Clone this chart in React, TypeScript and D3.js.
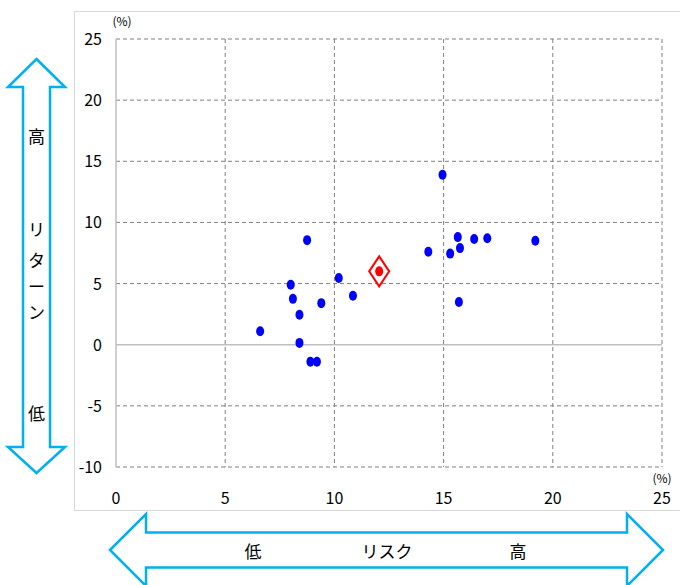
import React from "react";
import * as d3 from "d3";

// Risk (annualised volatility, %) and return (%) for each fund
const risk = [6.6, 8.0, 8.1, 8.4, 8.4, 8.75, 8.9, 9.2, 9.4, 10.2, 10.85, 14.95, 14.3, 15.3, 15.65, 15.75, 15.7, 16.4, 17.0, 19.2];
const ret = [1.1, 4.9, 3.75, 2.45, 0.15, 8.55, -1.4, -1.4, 3.4, 5.45, 4.0, 13.9, 7.6, 7.45, 8.8, 7.9, 3.5, 8.65, 8.7, 8.5];

// Highlighted fund
const highlightRisk = [12.05];
const highlightRet = [6.0];

const xTicks = [0, 5, 10, 15, 20, 25];
const yTicks = [25, 20, 15, 10, 5, 0, -5, -10];

const W = 680;
const H = 585;
const plot = { left: 116, right: 662, top: 39, bottom: 467 };

const FONT = "'Noto Sans CJK JP', 'Noto Sans', sans-serif";
const ARROW = "#00b0f0";

export default function App() {
  const x = d3.scaleLinear().domain([0, 25]).range([plot.left, plot.right]);
  const y = d3.scaleLinear().domain([-10, 25]).range([plot.bottom, plot.top]);

  // vertical double arrow (return)
  const vTop = 59, vHeadTop = 87, vHeadBot = 447, vBot = 473;
  const vCx = 36.5, vHeadHalf = 28.5, vShaftHalf = 13.5;
  const vArrow = [
    [vCx, vTop], [vCx + vHeadHalf, vHeadTop], [vCx + vShaftHalf, vHeadTop],
    [vCx + vShaftHalf, vHeadBot], [vCx + vHeadHalf, vHeadBot], [vCx, vBot],
    [vCx - vHeadHalf, vHeadBot], [vCx - vShaftHalf, vHeadBot],
    [vCx - vShaftHalf, vHeadTop], [vCx - vHeadHalf, vHeadTop],
  ];

  // horizontal double arrow (risk)
  const hLeft = 110, hHeadL = 146, hHeadR = 627, hRight = 663;
  const hCy = 550, hHeadHalf = 36, hShaftHalf = 17.5;
  const hArrow = [
    [hLeft, hCy], [hHeadL, hCy - hHeadHalf], [hHeadL, hCy - hShaftHalf],
    [hHeadR, hCy - hShaftHalf], [hHeadR, hCy - hHeadHalf], [hRight, hCy],
    [hHeadR, hCy + hHeadHalf], [hHeadR, hCy + hShaftHalf],
    [hHeadL, hCy + hShaftHalf], [hHeadL, hCy + hHeadHalf],
  ];
  const poly = (pts: number[][]) => "M" + pts.map((p) => p.join(",")).join("L") + "Z";

  const vChars = [
    { t: "高", y: 137 },
    { t: "リ", y: 230 },
    { t: "タ", y: 261 },
    { t: "ー", y: 287 },
    { t: "ン", y: 313 },
    { t: "低", y: 414 },
  ];

  return (
    <svg width={W} height={H} style={{ position: "absolute", left: 0, top: 0, background: "#fff" }} fontFamily={FONT}>
      {/* chart frame */}
      <rect x={74.5} y={11.5} width={W} height={499} fill="#fff" stroke="#d9d9d9" strokeWidth={1} />

      {/* grid lines */}
      {xTicks.filter((t) => t !== 0).map((t) => (
        <line key={"gx" + t} x1={x(t)} x2={x(t)} y1={plot.top} y2={plot.bottom}
          stroke="#808080" strokeWidth={1} strokeDasharray="4,3" />
      ))}
      {yTicks.filter((t) => t !== 0).map((t) => (
        <line key={"gy" + t} x1={plot.left} x2={plot.right} y1={y(t)} y2={y(t)}
          stroke="#808080" strokeWidth={1} strokeDasharray="4,3" />
      ))}
      {/* axes at zero */}
      <line x1={x(0)} x2={x(0)} y1={plot.top} y2={plot.bottom} stroke="#bfbfbf" strokeWidth={1.5} />
      <line x1={plot.left} x2={plot.right} y1={y(0)} y2={y(0)} stroke="#bfbfbf" strokeWidth={1.5} />

      {/* tick labels */}
      {yTicks.map((t) => (
        <text key={"ty" + t} x={102} y={y(t) + 6} textAnchor="end" fontSize={16} fill="#000">{t}</text>
      ))}
      {xTicks.map((t) => (
        <text key={"tx" + t} x={x(t)} y={504} textAnchor="middle" fontSize={16} fill="#000">{t}</text>
      ))}
      <text x={122} y={26} textAnchor="middle" fontSize={12} fill="#000">(%)</text>
      <text x={662} y={483} textAnchor="middle" fontSize={12} fill="#000">(%)</text>

      {/* funds */}
      {risk.map((r, i) => (
        <ellipse key={"p" + i} cx={x(r)} cy={y(ret[i])} rx={4} ry={5} fill="#0000ff" />
      ))}

      {/* highlighted fund */}
      {highlightRisk.map((r, i) => {
        const cx = x(r), cy = y(highlightRet[i]);
        return (
          <g key={"h" + i}>
            <path d={`M${cx},${cy - 15}L${cx + 10},${cy}L${cx},${cy + 15}L${cx - 10},${cy}Z`}
              fill="#fff" stroke="#ff0000" strokeWidth={2} />
            <ellipse cx={cx} cy={cy} rx={4} ry={5} fill="#ff0000" />
          </g>
        );
      })}

      {/* return arrow */}
      <path d={poly(vArrow)} fill="#fff" stroke={ARROW} strokeWidth={2.5} strokeLinejoin="miter" />
      {vChars.map((c, i) => (
        <text key={"v" + i} x={vCx} y={c.y + 6} textAnchor="middle" fontSize={17} fill="#000">{c.t}</text>
      ))}

      {/* risk arrow */}
      <path d={poly(hArrow)} fill="#fff" stroke={ARROW} strokeWidth={2.5} strokeLinejoin="miter" />
      <text x={253} y={558} textAnchor="middle" fontSize={17} fill="#000">低</text>
      <text x={387} y={558} textAnchor="middle" fontSize={17} fill="#000">リスク</text>
      <text x={518} y={558} textAnchor="middle" fontSize={17} fill="#000">高</text>
    </svg>
  );
}
